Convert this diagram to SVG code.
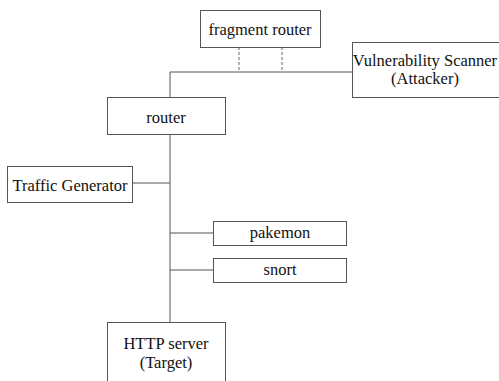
<svg xmlns="http://www.w3.org/2000/svg" width="499" height="381" viewBox="0 0 499 381">
<style>
.box{fill:#fff;stroke:#555;stroke-width:1}
.ln{fill:none;stroke:#555;stroke-width:1}
.dash{fill:none;stroke:#666;stroke-width:1;stroke-dasharray:3,2}
text{font-family:"Liberation Serif","Times New Roman",serif;font-size:16.5px;fill:#111;text-anchor:middle}
</style>
<rect width="499" height="381" fill="#fff"/>
<g id="connectors">
<path class="ln" d="M170,72 H352"/>
<path class="ln" d="M170,72 V97"/>
<path class="dash" d="M239,47 V72"/>
<path class="dash" d="M282,47 V72"/>
<path class="ln" d="M170,134 V322"/>
<path class="ln" d="M132,183 H170"/>
<path class="ln" d="M170,233 H213"/>
<path class="ln" d="M170,270 H213"/>
</g>
<g id="fragment-router">
<rect class="box" x="200.5" y="10.5" width="120" height="37"/>
<text x="260" y="35">fragment router</text>
</g>
<g id="vulnerability-scanner">
<rect class="box" x="352.5" y="42.5" width="150" height="55"/>
<text x="425" y="66">Vulnerability Scanner</text>
<text x="425" y="84">(Attacker)</text>
</g>
<g id="router">
<rect class="box" x="107.5" y="97.5" width="118" height="37"/>
<text x="166" y="123">router</text>
</g>
<g id="traffic-generator">
<rect class="box" x="7.5" y="166.5" width="125" height="36"/>
<text x="70" y="191">Traffic Generator</text>
</g>
<g id="pakemon">
<rect class="box" x="213.5" y="221.5" width="133" height="24"/>
<text x="280" y="238">pakemon</text>
</g>
<g id="snort">
<rect class="box" x="213.5" y="258.5" width="133" height="24"/>
<text x="280" y="275">snort</text>
</g>
<g id="http-server">
<rect class="box" x="107.5" y="322.5" width="118" height="70"/>
<text x="166" y="349">HTTP server</text>
<text x="166" y="368">(Target)</text>
</g>
</svg>
